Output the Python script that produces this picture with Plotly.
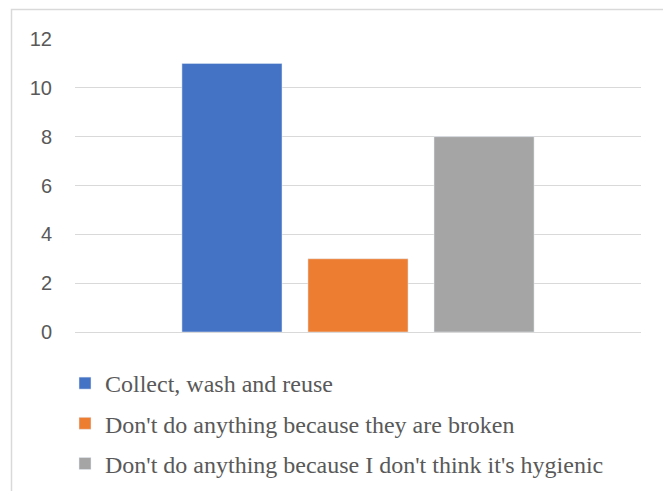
import plotly.graph_objects as go

series = ["Collect, wash and reuse",
          "Don't do anything because they are broken",
          "Don't do anything because I don't think it's hygienic"]
values = [11, 3, 8]
colors = ["#4472C4", "#ED7D31", "#A5A5A5"]
category = [""]
y_ticks = [0, 2, 4, 6, 8, 10, 12]

fig = go.Figure()
for i, (name, v, c) in enumerate(zip(series, values, colors)):
    fig.add_trace(go.Bar(x=category, y=[v], name=name, marker_color=c,
                         legendgroup=f"g{i}"))

L, R, T, B = 75, 22, 39, 159
W, H = 663, 491
pw, ph = W - L - R, H - T - B

fig.update_layout(
    width=W, height=H,
    margin=dict(l=L, r=R, t=T, b=B, autoexpand=False),
    paper_bgcolor="white", plot_bgcolor="white",
    barmode="group", bargap=0.332, bargroupgap=0.206,
    showlegend=True,
    legend=dict(orientation="v", xref="container", yref="container",
                x=65 / W, xanchor="left",
                y=1 - 361 / H, yanchor="top",
                font=dict(family="Liberation Serif", size=24, color="#595959"),
                tracegroupgap=6, traceorder="grouped",
                bgcolor="rgba(0,0,0,0)"),
    font=dict(family="Liberation Sans", color="#595959"),
    xaxis=dict(showticklabels=False, showgrid=False, zeroline=False,
               showline=False, ticks=""),
    yaxis=dict(range=[0, 12], tickvals=y_ticks, showgrid=True,
               gridcolor="#D9D9D9", gridwidth=1.3, zeroline=True,
               zerolinecolor="#D9D9D9", zerolinewidth=1.3,
               tickfont=dict(family="Liberation Sans", size=20, color="#595959"),
               ticklabelstandoff=22, showline=False),
    shapes=[dict(type="rect", xref="paper", yref="paper",
                 x0=(11.5 - L) / pw, x1=(W + 20 - L) / pw,
                 y0=-(H + 20 - T - ph) / ph, y1=1 + (T - 9.5) / ph,
                 line=dict(color="#D9D9D9", width=1.5), fillcolor="rgba(0,0,0,0)",
                 layer="below")],
)

fig.write_html("out.html")
